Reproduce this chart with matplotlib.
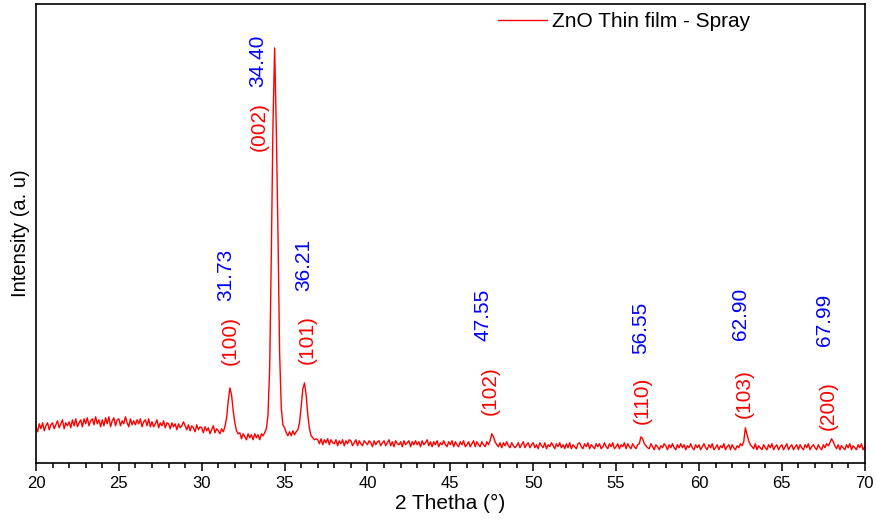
import numpy as np
import matplotlib
matplotlib.use('Agg')
import matplotlib.pyplot as plt
from matplotlib.ticker import MultipleLocator

plt.rcParams['font.family'] = ['Liberation Sans', 'DejaVu Sans']

# XRD intensity (a.u.), every 0.1 deg from 20.0 to 70.0
intensity = [
    36, 31, 39, 34, 40, 32, 37, 40, 33, 38,   # 20
    40, 34, 38, 42, 35, 39, 43, 34, 40, 37,   # 21
    41, 35, 43, 37, 44, 36, 40, 43, 36, 44,   # 22
    39, 45, 37, 42, 44, 38, 46, 39, 43, 36,   # 23
    43, 37, 45, 39, 46, 36, 42, 45, 37, 43,   # 24
    44, 37, 42, 39, 46, 40, 36, 44, 38, 42,   # 25
    38, 43, 39, 44, 36, 41, 43, 37, 44, 36,   # 26
    41, 36, 39, 43, 35, 40, 37, 42, 35, 40,   # 27
    39, 34, 40, 36, 39, 33, 39, 35, 37, 41,   # 28
    37, 33, 38, 32, 37, 35, 31, 38, 33, 36,   # 29
    35, 30, 36, 32, 35, 29, 33, 37, 30, 34,   # 30
    32, 29, 34, 31, 36, 45, 62, 75, 68, 52,   # 31
    40, 32, 29, 30, 24, 29, 26, 23, 29, 25,   # 32
    28, 23, 29, 25, 28, 23, 29, 27, 30, 34,   # 33
    48, 95, 210, 340, 416, 335, 230, 110, 55, 38,  # 34
    35, 30, 27, 31, 27, 32, 28, 31, 33, 40,   # 35
    56, 74, 80, 68, 48, 34, 27, 25, 23, 24,   # 36
    23, 19, 24, 18, 23, 20, 24, 18, 23, 20,   # 37
    19, 23, 17, 22, 19, 23, 17, 22, 19, 23,   # 38
    22, 17, 20, 23, 17, 22, 19, 17, 22, 20,   # 39
    18, 22, 20, 16, 22, 18, 21, 22, 17, 20,   # 40
    22, 17, 20, 23, 17, 21, 16, 22, 19, 18,   # 41
    21, 16, 22, 18, 20, 22, 16, 21, 18, 22,   # 42
    18, 21, 16, 22, 18, 20, 23, 17, 21, 16,   # 43
    21, 18, 22, 16, 20, 18, 22, 18, 16, 21,   # 44
    18, 22, 16, 21, 18, 16, 21, 18, 22, 16,   # 45
    18, 21, 16, 19, 22, 16, 21, 18, 16, 21,   # 46
    18, 16, 21, 18, 22, 29, 26, 21, 18, 16,   # 47
    20, 15, 20, 17, 21, 17, 15, 20, 17, 15,   # 48
    17, 20, 15, 18, 21, 15, 18, 20, 15, 18,   # 49
    20, 15, 18, 14, 20, 17, 15, 20, 14, 18,   # 50
    16, 20, 17, 14, 19, 16, 20, 15, 18, 14,   # 51
    19, 15, 20, 14, 18, 16, 14, 19, 20, 16,   # 52
    14, 19, 16, 20, 14, 18, 16, 14, 19, 16,   # 53
    19, 14, 16, 20, 16, 14, 19, 16, 20, 14,   # 54
    16, 19, 14, 18, 16, 20, 14, 19, 16, 14,   # 55
    19, 16, 14, 18, 19, 26, 24, 19, 17, 15,   # 56
    14, 19, 16, 13, 18, 16, 13, 17, 15, 19,   # 57
    17, 13, 18, 15, 19, 15, 13, 18, 15, 19,   # 58
    15, 18, 13, 17, 15, 19, 15, 13, 18, 15,   # 59
    18, 13, 16, 19, 15, 13, 18, 15, 19, 13,   # 60
    15, 18, 13, 17, 15, 19, 13, 16, 18, 13,   # 61
    18, 15, 13, 17, 15, 19, 17, 21, 35, 28,   # 62
    22, 18, 16, 14, 19, 13, 17, 15, 13, 18,   # 63
    15, 13, 18, 15, 19, 13, 16, 18, 13, 16,   # 64
    18, 13, 16, 19, 13, 16, 18, 13, 16, 18,   # 65
    13, 18, 15, 13, 18, 15, 19, 13, 16, 18,   # 66
    15, 13, 18, 15, 13, 18, 15, 19, 17, 20,   # 67
    24, 21, 17, 14, 18, 13, 17, 15, 13, 18,   # 68
    15, 19, 13, 17, 15, 13, 18, 15, 19, 13,   # 69
    16,                                       # 70
]
two_theta = np.linspace(20, 70, len(intensity))

# peak annotations: angle label, hkl label
peak_angles = ['34.40', '31.73', '36.21', '47.55', '56.55', '62.90', '67.99']
peak_hkl = ['(002)', '(100)', '(101)', '(102)', '(110)', '(103)', '(200)']
# where the labels sit (data coords)
angle_pos = [(33.39, 403), (31.46, 188), (36.16, 198), (46.96, 148), (56.49, 135), (62.52, 149), (67.59, 143)]
hkl_pos = [(33.45, 337), (31.75, 123), (36.34, 123), (47.38, 72), (56.55, 63), (62.76, 69), (67.77, 57)]

fig = plt.figure(figsize=(8.77, 5.28), dpi=100)
ax = fig.add_axes([0.041, 0.1237, 0.945, 0.8687])

ax.plot(two_theta, intensity, color='red', lw=1.0, label='ZnO Thin film - Spray')

for lab, (x, y) in zip(peak_angles, angle_pos):
    ax.text(x, y, lab, color='blue', rotation=90, ha='center', va='center', fontsize=15)
for lab, (x, y) in zip(peak_hkl, hkl_pos):
    ax.text(x, y, lab, color='red', rotation=90, ha='center', va='center', fontsize=15)

ax.set_xlim(20, 70)
ax.set_ylim(0, 460)
ax.xaxis.set_major_locator(MultipleLocator(5))
ax.xaxis.set_minor_locator(MultipleLocator(1))
ax.tick_params(axis='x', which='major', direction='out', length=6, width=1.1, labelsize=12)
ax.tick_params(axis='x', which='minor', direction='out', length=3.5, width=1.1)
ax.set_yticks([])
for sp in ax.spines.values():
    sp.set_linewidth(1.2)

ax.set_xlabel('2 Thetha (°)', fontsize=15, labelpad=2)
ax.set_ylabel('Intensity (a. u)', fontsize=14.5, labelpad=4)

ax.legend(loc='center left', bbox_to_anchor=(0.557, 0.961), frameon=False,
          fontsize=15, handlelength=2.35, handletextpad=0.25, borderpad=0, borderaxespad=0)

fig.savefig('out.png', dpi=100)
